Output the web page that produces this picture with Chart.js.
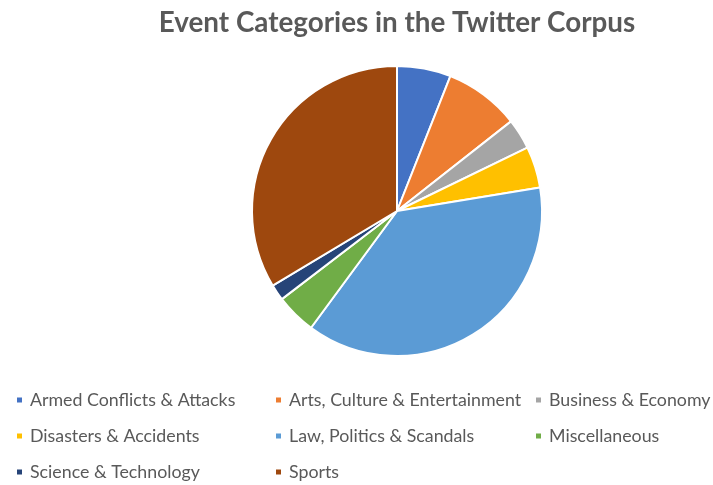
<!DOCTYPE html>
<html>
<head>
<meta charset="utf-8">
<script src="https://cdn.jsdelivr.net/npm/chart.js@4.4.1/dist/chart.umd.min.js"></script>
<style>
  html, body { margin: 0; padding: 0; background: #ffffff; }
  #wrap { width: 713px; height: 485px; position: relative; }
</style>
</head>
<body>
<div id="wrap"><canvas id="chart" width="713" height="485"></canvas></div>
<script>
// Event categories and their share of the corpus (%)
const categories = [
  'Armed Conflicts & Attacks',
  'Arts, Culture & Entertainment',
  'Business & Economy',
  'Disasters & Accidents',
  'Law, Politics & Scandals',
  'Miscellaneous',
  'Science & Technology',
  'Sports'
];
const shares = [6.0, 8.4, 3.4, 4.6, 37.7, 4.5, 1.8, 33.6];
const colors = ['#4472C4', '#ED7D31', '#A5A5A5', '#FFC000', '#5B9BD5', '#70AD47', '#264478', '#9E480E'];
const chartTitle = 'Event Categories in the Twitter Corpus';

const TEXT_COLOR = '#595959';

// Title centred above the pie
const titlePlugin = {
  id: 'pieTitle',
  afterDraw(chart) {
    const ctx = chart.ctx;
    const area = chart.chartArea;
    ctx.save();
    ctx.fillStyle = TEXT_COLOR;
    ctx.font = 'bold 27.8px Lato';
    ctx.textAlign = 'center';
    ctx.textBaseline = 'alphabetic';
    ctx.fillText(chartTitle, (area.left + area.right) / 2, 32);
    ctx.restore();
  }
};

// Three-column legend grid below the pie
const gridLegend = {
  id: 'gridLegend',
  afterDraw(chart) {
    const ctx = chart.ctx;
    const colX = [17, 276, 536];
    const rowY = [400, 436, 472];
    const labels = chart.data.labels;
    const bg = chart.data.datasets[0].backgroundColor;
    ctx.save();
    ctx.font = '17.8px Lato';
    ctx.textBaseline = 'middle';
    ctx.textAlign = 'left';
    labels.forEach((label, i) => {
      const x = colX[i % 3];
      const y = rowY[Math.floor(i / 3)];
      ctx.fillStyle = bg[i];
      ctx.fillRect(x, y - 2.5, 5, 5);
      ctx.fillStyle = TEXT_COLOR;
      ctx.fillText(label, x + 13, y);
    });
    ctx.restore();
  }
};

new Chart(document.getElementById('chart'), {
  type: 'pie',
  data: {
    labels: categories,
    datasets: [{
      data: shares,
      backgroundColor: colors,
      borderColor: '#ffffff',
      borderWidth: 2
    }]
  },
  options: {
    responsive: false,
    animation: false,
    layout: { padding: { top: 65, bottom: 128, left: 251, right: 170 } },
    plugins: {
      legend: { display: false },
      title: { display: false },
      tooltip: { enabled: false }
    }
  },
  plugins: [titlePlugin, gridLegend]
});
</script>
</body>
</html>
